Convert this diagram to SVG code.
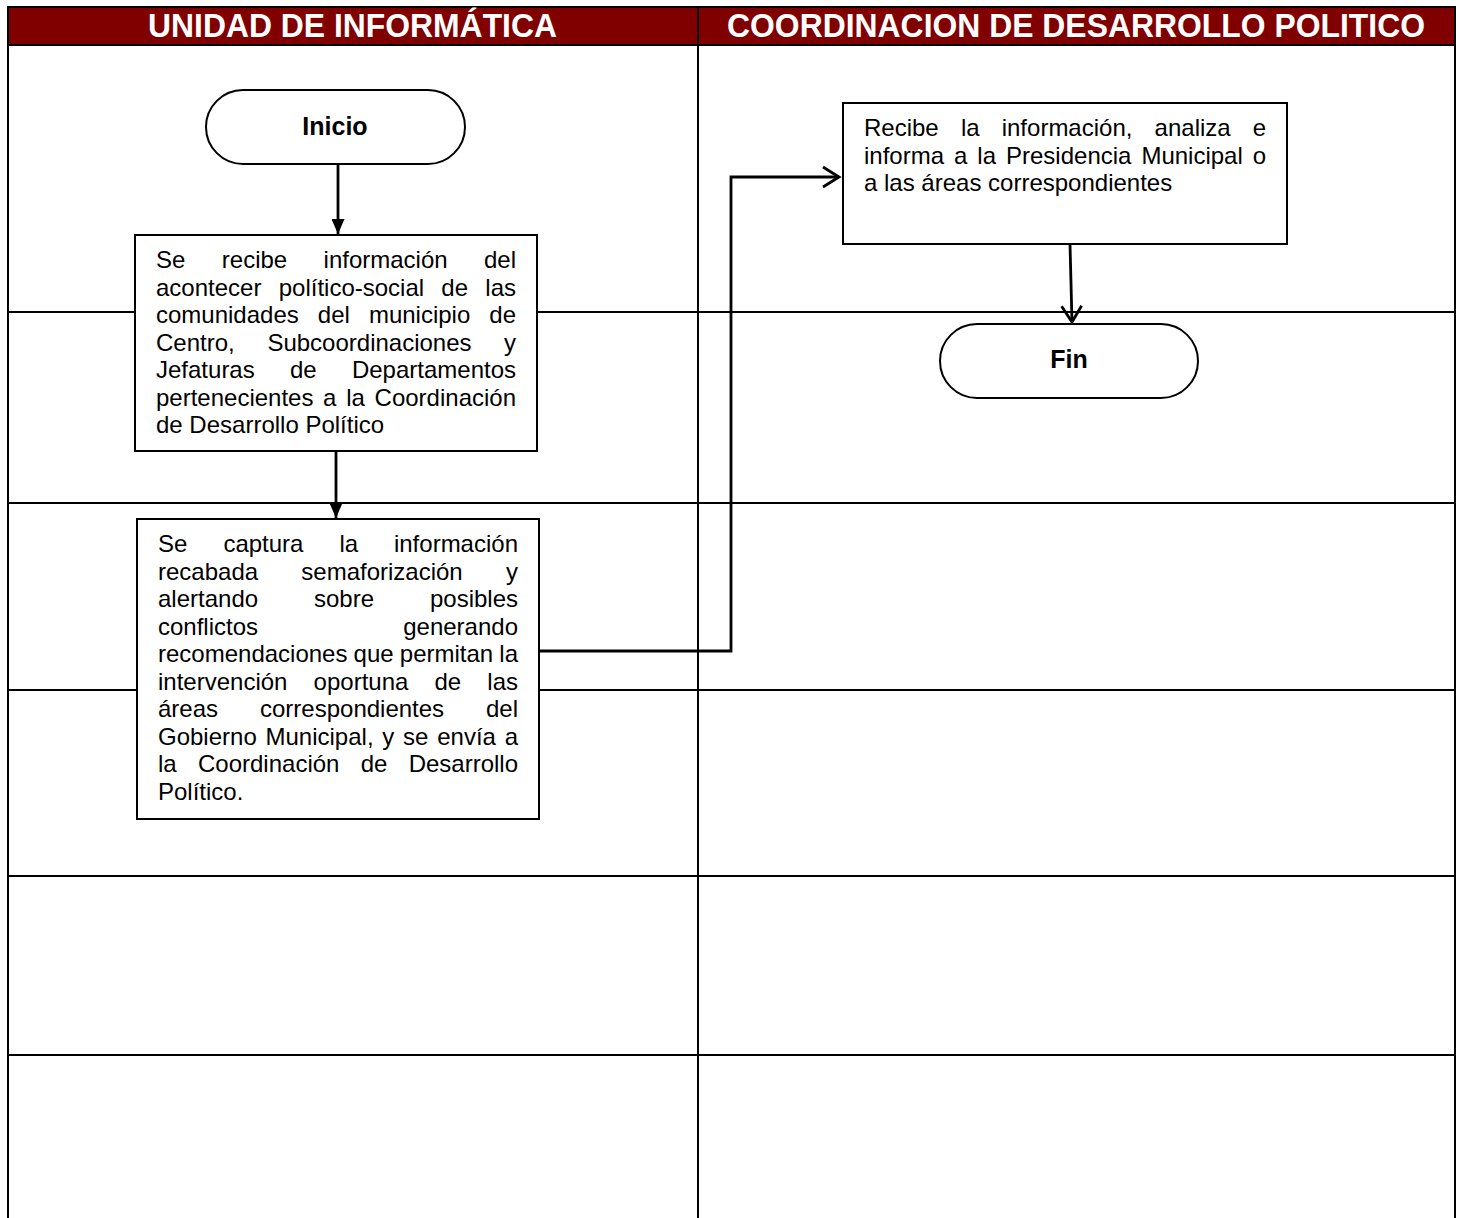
<svg xmlns="http://www.w3.org/2000/svg" width="1466" height="1218" viewBox="0 0 1466 1218">
<style>
.lane{stroke:#000;stroke-width:2;fill:none}
.box{fill:#fff;stroke:#000;stroke-width:2}
.t{font-family:"Liberation Sans",Arial,sans-serif;font-size:24px;fill:#000}
.tb{font-family:"Liberation Sans",Arial,sans-serif;font-size:25px;font-weight:bold;fill:#000}
.h{font-family:"Liberation Sans Narrow","Liberation Sans",Arial,sans-serif;font-size:33px;font-weight:bold;fill:#fff}
.c{stroke:#000;stroke-width:2.8;fill:none}
</style>
<defs>
<marker id="tri" markerWidth="15" markerHeight="13" refX="15" refY="6.5" orient="auto" markerUnits="userSpaceOnUse" viewBox="0 0 15 13">
<path d="M0,0 L15,6.5 L0,13 Z" fill="#000"/>
</marker>
<marker id="chev" markerWidth="20" markerHeight="24" refX="17" refY="12" orient="auto" markerUnits="userSpaceOnUse" viewBox="0 0 20 24">
<path d="M1,2 L17,12 L1,22" fill="none" stroke="#000" stroke-width="2.8"/>
</marker>
</defs>
<rect width="1466" height="1218" fill="#fff"/>
<g id="lanes">
<rect x="8" y="7" width="1447" height="38" fill="#800000" stroke="#000" stroke-width="2"/>
<text class="h" x="352.5" y="37" text-anchor="middle" textLength="409" lengthAdjust="spacingAndGlyphs">UNIDAD DE INFORMÁTICA</text>
<text class="h" x="1076" y="37" text-anchor="middle" textLength="698" lengthAdjust="spacingAndGlyphs">COORDINACION DE DESARROLLO POLITICO</text>
<path class="lane" d="M8,7 V1218 M1455,7 V1218 M698,7 V1218 M8,312 H1455 M8,503 H1455 M8,690 H1455 M8,876 H1455 M8,1055 H1455"/>
</g>
<g id="connectors">
<path class="c" d="M338,164 V234" marker-end="url(#tri)"/>
<path class="c" d="M336,451 V518" marker-end="url(#tri)"/>
<path class="c" d="M539,651 H731 V177 H839" marker-end="url(#chev)"/>
<path class="c" d="M1070,244 L1072,322" marker-end="url(#chev)"/>
</g>
<g id="inicio">
<rect class="box" x="206" y="90" width="259" height="74" rx="37"/>
<text class="tb" x="335" y="135" text-anchor="middle">Inicio</text>
</g>
<g id="recibe">
<rect class="box" x="135" y="235" width="402" height="216"/>
<text class="t" y="268"><tspan x="156">Se</tspan><tspan x="221.8">recibe</tspan><tspan x="323.6">información</tspan><tspan x="516" text-anchor="end">del</tspan></text>
<text class="t" y="295.5"><tspan x="156">acontecer</tspan><tspan x="278.7">político-social</tspan><tspan x="441.3">de</tspan><tspan x="516" text-anchor="end">las</tspan></text>
<text class="t" y="323"><tspan x="156">comunidades</tspan><tspan x="317.8">del</tspan><tspan x="368.9">municipio</tspan><tspan x="516" text-anchor="end">de</tspan></text>
<text class="t" y="350.5"><tspan x="156">Centro,</tspan><tspan x="267.4">Subcoordinaciones</tspan><tspan x="516" text-anchor="end">y</tspan></text>
<text class="t" y="378"><tspan x="156">Jefaturas</tspan><tspan x="290">de</tspan><tspan x="516" text-anchor="end">Departamentos</tspan></text>
<text class="t" y="405.5"><tspan x="156">pertenecientes</tspan><tspan x="323.1">a</tspan><tspan x="346.2">la</tspan><tspan x="516" text-anchor="end">Coordinación</tspan></text>
<text class="t" y="433" x="156">de Desarrollo Político</text>
</g>
<g id="captura">
<rect class="box" x="137" y="519" width="402" height="300"/>
<text class="t" y="552"><tspan x="158">Se</tspan><tspan x="223.4">captura</tspan><tspan x="339.4">la</tspan><tspan x="518" text-anchor="end">información</tspan></text>
<text class="t" y="579.5"><tspan x="158">recabada</tspan><tspan x="301.3">semaforización</tspan><tspan x="518" text-anchor="end">y</tspan></text>
<text class="t" y="607"><tspan x="158">alertando</tspan><tspan x="314">sobre</tspan><tspan x="518" text-anchor="end">posibles</tspan></text>
<text class="t" y="634.5"><tspan x="158">conflictos</tspan><tspan x="518" text-anchor="end">generando</tspan></text>
<text class="t" y="662"><tspan x="158">recomendaciones</tspan><tspan x="353.6">que</tspan><tspan x="399.8">permitan</tspan><tspan x="518" text-anchor="end">la</tspan></text>
<text class="t" y="689.5"><tspan x="158">intervención</tspan><tspan x="313.6">oportuna</tspan><tspan x="434.5">de</tspan><tspan x="518" text-anchor="end">las</tspan></text>
<text class="t" y="717"><tspan x="158">áreas</tspan><tspan x="260">correspondientes</tspan><tspan x="518" text-anchor="end">del</tspan></text>
<text class="t" y="744.5"><tspan x="158">Gobierno</tspan><tspan x="265.5">Municipal,</tspan><tspan x="382.3">y</tspan><tspan x="403.1">se</tspan><tspan x="437.2">envía</tspan><tspan x="518" text-anchor="end">a</tspan></text>
<text class="t" y="772"><tspan x="158">la</tspan><tspan x="198">Coordinación</tspan><tspan x="360.7">de</tspan><tspan x="518" text-anchor="end">Desarrollo</tspan></text>
<text class="t" y="799.5" x="158">Político.</text>
</g>
<g id="analiza">
<rect class="box" x="843" y="103" width="444" height="141"/>
<text class="t" y="136"><tspan x="864">Recibe</tspan><tspan x="960.9">la</tspan><tspan x="1001.7">información,</tspan><tspan x="1154.6">analiza</tspan><tspan x="1266" text-anchor="end">e</tspan></text>
<text class="t" y="163.5"><tspan x="864">informa</tspan><tspan x="954">a</tspan><tspan x="977.3">la</tspan><tspan x="1006">Presidencia</tspan><tspan x="1141.4">Municipal</tspan><tspan x="1266" text-anchor="end">o</tspan></text>
<text class="t" y="191" x="864">a las áreas correspondientes</text>
</g>
<g id="fin">
<rect class="box" x="940" y="324" width="258" height="74" rx="37"/>
<text class="tb" x="1069" y="368" text-anchor="middle">Fin</text>
</g>
</svg>
